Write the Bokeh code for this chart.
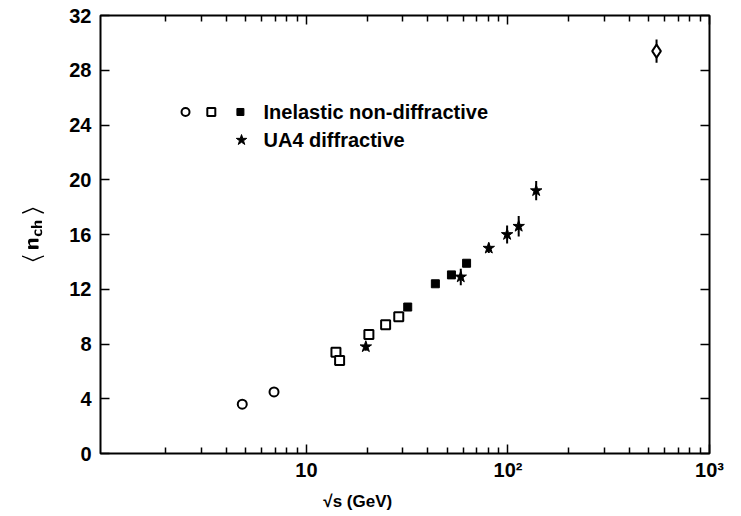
from bokeh.plotting import figure
from bokeh.models import (Range1d, LinearAxis, LogAxis, FixedTicker, Label)
from bokeh.embed import file_html
from bokeh.resources import INLINE

# Mean charged multiplicity vs centre-of-mass energy
# Inelastic non-diffractive: low-energy bubble chamber (open circles)
circ_s = [4.8, 6.9]
circ_n = [3.6, 4.5]
# ISR-like open squares
sq_s = [14.0, 14.6, 20.4, 24.7, 28.7]
sq_n = [7.4, 6.8, 8.7, 9.4, 10.0]
# filled squares
fsq_s = [31.8, 43.6, 52.4, 62.3]
fsq_n = [10.7, 12.4, 13.05, 13.9]
# collider point (open diamond)
dia_s = [546.0]
dia_n = [29.4]
dia_err = [0.85]
# UA4 diffractive (stars)
star_s = [19.7, 58.3, 80.3, 99.0, 113.0, 138.0]
star_n = [7.8, 12.9, 15.0, 16.0, 16.6, 19.2]
star_err = [0.3, 0.6, 0.35, 0.65, 0.75, 0.7]

x_major = [10, 100, 1000]
x_labels = {10: "10", 100: "10²", 1000: "10³"}
y_major = [0, 4, 8, 12, 16, 20, 24, 28, 32]

FONT = "Liberation Sans"
NBSP = "\u00a0"

p = figure(width=741, height=516, x_axis_type="log",
           x_range=Range1d(0.95, 1000), y_range=Range1d(0, 32),
           output_backend="svg", toolbar_location=None,
           min_border_left=100, min_border_right=32,
           min_border_top=15, min_border_bottom=63)
p.grid.visible = False
p.outline_line_color = "black"
p.outline_line_width = 2
p.background_fill_color = "white"
p.border_fill_color = "white"

minor = [m * d for d in (1, 10, 100) for m in range(2, 10)]
xt = FixedTicker(ticks=x_major, minor_ticks=minor)
yt = FixedTicker(ticks=y_major, minor_ticks=[])


def style(ax, labels=True):
    ax.axis_line_color = None
    ax.major_tick_in = 9
    ax.major_tick_out = 0
    ax.minor_tick_in = 6
    ax.minor_tick_out = 0
    ax.major_tick_line_width = 1.5
    ax.minor_tick_line_width = 1.5
    ax.major_tick_line_color = "black"
    ax.minor_tick_line_color = "black"
    if labels:
        ax.major_label_text_font = FONT
        ax.major_label_text_font_style = "bold"
        ax.major_label_text_font_size = "20px"
        ax.major_label_text_color = "black"
        ax.axis_label_text_font = FONT
        ax.axis_label_text_font_style = "bold"
        ax.axis_label_text_font_size = "17px"
        ax.axis_label_text_color = "black"
    else:
        ax.major_label_text_font_size = "1px"
        ax.major_label_text_alpha = 0
        ax.major_label_standoff = 0


xa = p.xaxis[0]
xa.ticker = xt
xa.major_label_overrides = x_labels
xa.major_label_standoff = 5
style(xa)
# trailing no-break spaces pull the title left of the axis centre
xa.axis_label = "√s (GeV)" + NBSP * 20
xa.axis_label_standoff = 8

ya = p.yaxis[0]
ya.ticker = yt
ya.major_label_standoff = 9
style(ya)
ya.axis_label = r"$$\langle\, \mathsf{n}_{\mathsf{ch}} \,\rangle$$"
ya.axis_label_standoff = 22
ya.axis_label_text_font_size = "18px"

top = LogAxis(ticker=xt)
style(top, labels=False)
p.add_layout(top, "above")
right = LinearAxis(ticker=yt)
style(right, labels=False)
p.add_layout(right, "right")

# error bars
p.segment(x0=dia_s, x1=dia_s, y0=[n - e for n, e in zip(dia_n, dia_err)],
          y1=[n + e for n, e in zip(dia_n, dia_err)], line_color="black", line_width=2)
p.segment(x0=star_s, x1=star_s, y0=[n - e for n, e in zip(star_n, star_err)],
          y1=[n + e for n, e in zip(star_n, star_err)], line_color="black", line_width=2)

p.scatter(circ_s, circ_n, marker="circle", size=9, fill_color="white",
          line_color="black", line_width=2)
p.scatter(sq_s, sq_n, marker="square", size=9, fill_color="white",
          line_color="black", line_width=2)
p.scatter(fsq_s, fsq_n, marker="square", size=8, fill_color="black",
          line_color="black", line_width=1)
p.scatter(dia_s, dia_n, marker="diamond", size=13, fill_color="white",
          line_color="black", line_width=2)
p.scatter(star_s, star_n, marker="star", size=12, fill_color="black",
          line_color="black", line_width=1)

# key
key_y1, key_y2 = 24.95, 22.9
p.scatter([2.51], [key_y1], marker="circle", size=8, fill_color="white",
          line_color="black", line_width=2)
p.scatter([3.37], [key_y1], marker="square", size=8, fill_color="white",
          line_color="black", line_width=2)
p.scatter([4.70], [key_y1], marker="square", size=7, fill_color="black",
          line_color="black")
p.scatter([4.76], [key_y2], marker="star", size=11, fill_color="black",
          line_color="black")
for txt, yy in (("Inelastic non-diffractive", key_y1), ("UA4 diffractive", key_y2)):
    p.add_layout(Label(x=6.12, y=yy, text=txt, text_font=FONT,
                       text_font_size="20px", text_font_style="bold",
                       text_baseline="middle", text_color="black"))

open("out.html", "w").write(file_html(p, INLINE))
